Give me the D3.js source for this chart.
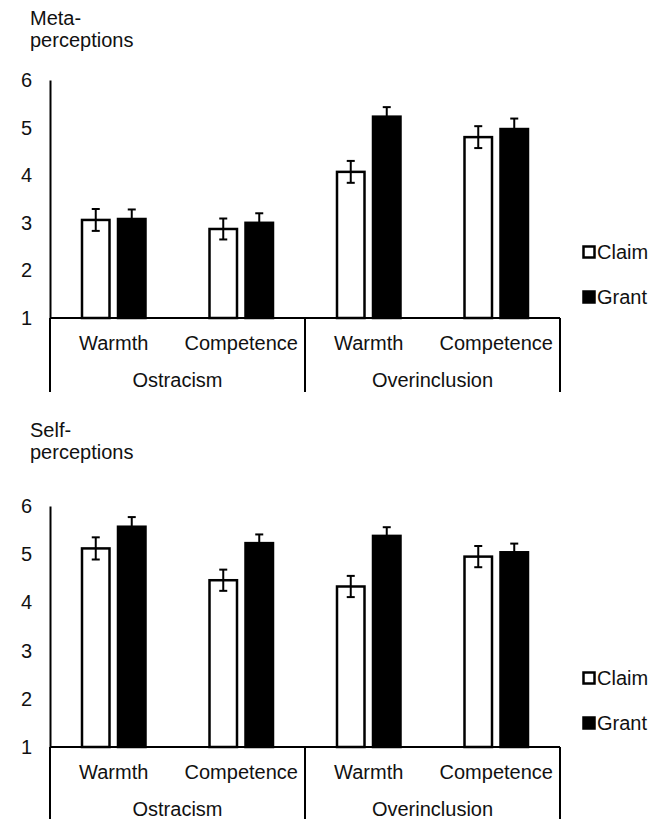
<!DOCTYPE html>
<html>
<head>
<meta charset="utf-8">
<script src="https://cdn.jsdelivr.net/npm/d3@7"></script>
<style>
  body { margin: 0; background: #fff; }
  svg { display: block; font-family: "Liberation Sans", Arial, sans-serif; }
</style>
</head>
<body>
<div class="canvas"></div>
<script>
// Categories
const groups = ['Ostracism', 'Overinclusion'];
const traits = ['Warmth', 'Competence'];
const series = ['Claim', 'Grant'];
const yTicks = [1, 2, 3, 4, 5, 6];

// Meta-perceptions (order: Ostr-Warmth, Ostr-Competence, Over-Warmth, Over-Competence)
const metaClaim = [3.06, 2.87, 4.07, 4.80];
const metaGrant = [3.08, 3.00, 5.23, 4.97];
const metaClaimErr = [0.23, 0.22, 0.23, 0.23];
const metaGrantErr = [0.20, 0.20, 0.20, 0.22];

// Self-perceptions
const selfClaim = [5.12, 4.46, 4.33, 4.95];
const selfGrant = [5.57, 5.23, 5.38, 5.04];
const selfClaimErr = [0.23, 0.22, 0.22, 0.22];
const selfGrantErr = [0.20, 0.18, 0.18, 0.18];

// Layout
const svgWidth = 652;
const svgHeight = 819;
const left = 50, right = 560;
const fontSize = 20;

const svg = d3.select('.canvas').append('svg')
  .attr('width', svgWidth)
  .attr('height', svgHeight);

// Category keys
const cats = [];
groups.forEach(g => traits.forEach(t => cats.push(g + '|' + t)));

const x0 = d3.scaleBand().domain(cats).range([left, right]);
const x1 = d3.scaleBand().domain(series).range([-36, 36]);
const barW = 27.5;

function drawPanel(cfg) {
  const g = svg.append('g');
  const y = d3.scaleLinear().domain([1, 6]).range([cfg.bottom, cfg.top]);

  // title
  g.append('text').attr('x', 30).attr('y', cfg.titleY[0])
    .attr('font-size', fontSize).attr('fill', '#111').text(cfg.title[0]);
  g.append('text').attr('x', 30).attr('y', cfg.titleY[1])
    .attr('font-size', fontSize).attr('fill', '#111').text(cfg.title[1]);

  // rows of bar data
  const rows = cats.map((c, i) => ({
    cat: c,
    vals: [
      { s: 'Claim', v: cfg.claim[i], e: cfg.claimErr[i] },
      { s: 'Grant', v: cfg.grant[i], e: cfg.grantErr[i] }
    ]
  }));

  const cg = g.selectAll('.cat').data(rows).enter().append('g')
    .attr('transform', d => 'translate(' + (x0(d.cat) + x0.bandwidth() / 2) + ',0)');

  const bars = cg.selectAll('.bar').data(d => d.vals).enter().append('g');

  bars.append('rect')
    .attr('x', d => x1(d.s) + x1.bandwidth() / 2 - barW / 2)
    .attr('y', d => y(d.v))
    .attr('width', barW)
    .attr('height', d => y(1) - y(d.v))
    .attr('fill', d => d.s === 'Claim' ? '#fff' : '#000')
    .attr('stroke', '#000')
    .attr('stroke-width', 2.5);

  // error bars
  bars.append('line')
    .attr('x1', d => x1(d.s) + x1.bandwidth() / 2)
    .attr('x2', d => x1(d.s) + x1.bandwidth() / 2)
    .attr('y1', d => y(d.v + d.e))
    .attr('y2', d => y(d.v - d.e))
    .attr('stroke', '#000').attr('stroke-width', 2);
  [1, -1].forEach(sign => {
    bars.append('line')
      .attr('x1', d => x1(d.s) + x1.bandwidth() / 2 - 4)
      .attr('x2', d => x1(d.s) + x1.bandwidth() / 2 + 4)
      .attr('y1', d => y(d.v + sign * d.e))
      .attr('y2', d => y(d.v + sign * d.e))
      .attr('stroke', d => d.s === 'Grant' && sign < 0 ? '#000' : '#000')
      .attr('stroke-width', 2);
  });

  // y axis
  const yAx = d3.axisLeft(y).tickValues(yTicks).tickSize(0).tickPadding(18).tickFormat(d3.format('d'));
  const ya = g.append('g').attr('transform', 'translate(' + left + ',0)').call(yAx);
  ya.select('.domain').attr('stroke', '#000').attr('stroke-width', 2);
  ya.selectAll('text').attr('font-size', fontSize).attr('fill', '#111')
    .attr('font-family', '"Liberation Sans", Arial, sans-serif');

  // x axis line
  g.append('line').attr('x1', left).attr('x2', right)
    .attr('y1', y(1)).attr('y2', y(1))
    .attr('stroke', '#000').attr('stroke-width', 2);

  // group separators
  const gx = [left, x0(cats[2]), right];
  g.selectAll('.sep').data(gx).enter().append('line')
    .attr('x1', d => d).attr('x2', d => d)
    .attr('y1', y(1)).attr('y2', y(1) + 74)
    .attr('stroke', '#000').attr('stroke-width', 2);

  // trait labels
  g.selectAll('.tl').data(cats).enter().append('text')
    .attr('x', d => x0(d) + x0.bandwidth() / 2)
    .attr('y', y(1) + 32)
    .attr('text-anchor', 'middle')
    .attr('font-size', fontSize).attr('fill', '#111')
    .text(d => d.split('|')[1]);

  // group labels
  g.selectAll('.gl').data(groups).enter().append('text')
    .attr('x', (d, i) => (gx[i] + gx[i + 1]) / 2)
    .attr('y', y(1) + 69)
    .attr('text-anchor', 'middle')
    .attr('font-size', fontSize).attr('fill', '#111')
    .text(d => d);

  // legend
  const lg = g.selectAll('.lg').data(series).enter().append('g')
    .attr('transform', (d, i) => 'translate(583,' + (cfg.top + 172 + i * 45) + ')');
  lg.append('rect')
    .attr('x', 0.5).attr('y', -5.5).attr('width', 11).attr('height', 11)
    .attr('fill', d => d === 'Claim' ? '#fff' : '#000')
    .attr('stroke', '#000').attr('stroke-width', 2.5);
  lg.append('text').attr('x', 14).attr('y', 7)
    .attr('font-size', fontSize).attr('fill', '#111').text(d => d);
}

drawPanel({
  top: 80, bottom: 318, title: ['Meta-', 'perceptions'], titleY: [25, 47],
  claim: metaClaim, grant: metaGrant, claimErr: metaClaimErr, grantErr: metaGrantErr
});
drawPanel({
  top: 506, bottom: 747, title: ['Self-', 'perceptions'], titleY: [437, 459],
  claim: selfClaim, grant: selfGrant, claimErr: selfClaimErr, grantErr: selfGrantErr
});
</script>
</body>
</html>
